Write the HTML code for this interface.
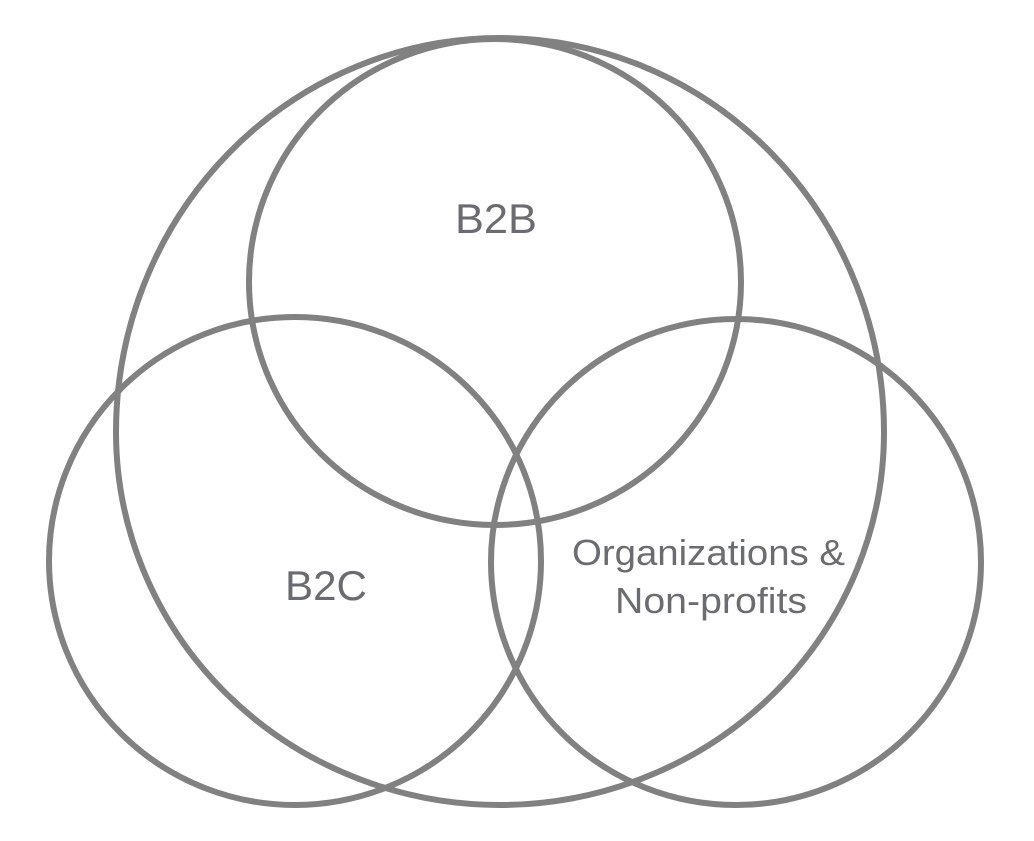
<!DOCTYPE html>
<html><head><style>html,body{margin:0;padding:0;background:#fff;}svg{display:block}</style></head>
<body>
<svg width="1034" height="841" viewBox="0 0 1034 841" xmlns="http://www.w3.org/2000/svg">
<g fill="none" stroke="#818181" stroke-width="6">
<path d="M116 432 A384 394 0 0 1 884 432 A384 373 0 0 1 116 432 Z"/>
<ellipse cx="495" cy="282" rx="246" ry="243"/>
<ellipse cx="295" cy="561" rx="246" ry="244"/>
<ellipse cx="736" cy="562" rx="245" ry="243"/>
</g>
<g fill="#6b6b72" font-family="Liberation Sans Narrow, Liberation Sans, sans-serif">
<text x="455" y="233" font-size="42" textLength="82" lengthAdjust="spacingAndGlyphs">B2B</text>
<text x="285" y="600" font-size="42" textLength="82" lengthAdjust="spacingAndGlyphs">B2C</text>
<text x="572" y="565" font-size="36" textLength="273" lengthAdjust="spacingAndGlyphs">Organizations &amp;</text>
<text x="615" y="613" font-size="36" textLength="192" lengthAdjust="spacingAndGlyphs">Non-profits</text>
</g>
</svg>
</body></html>
